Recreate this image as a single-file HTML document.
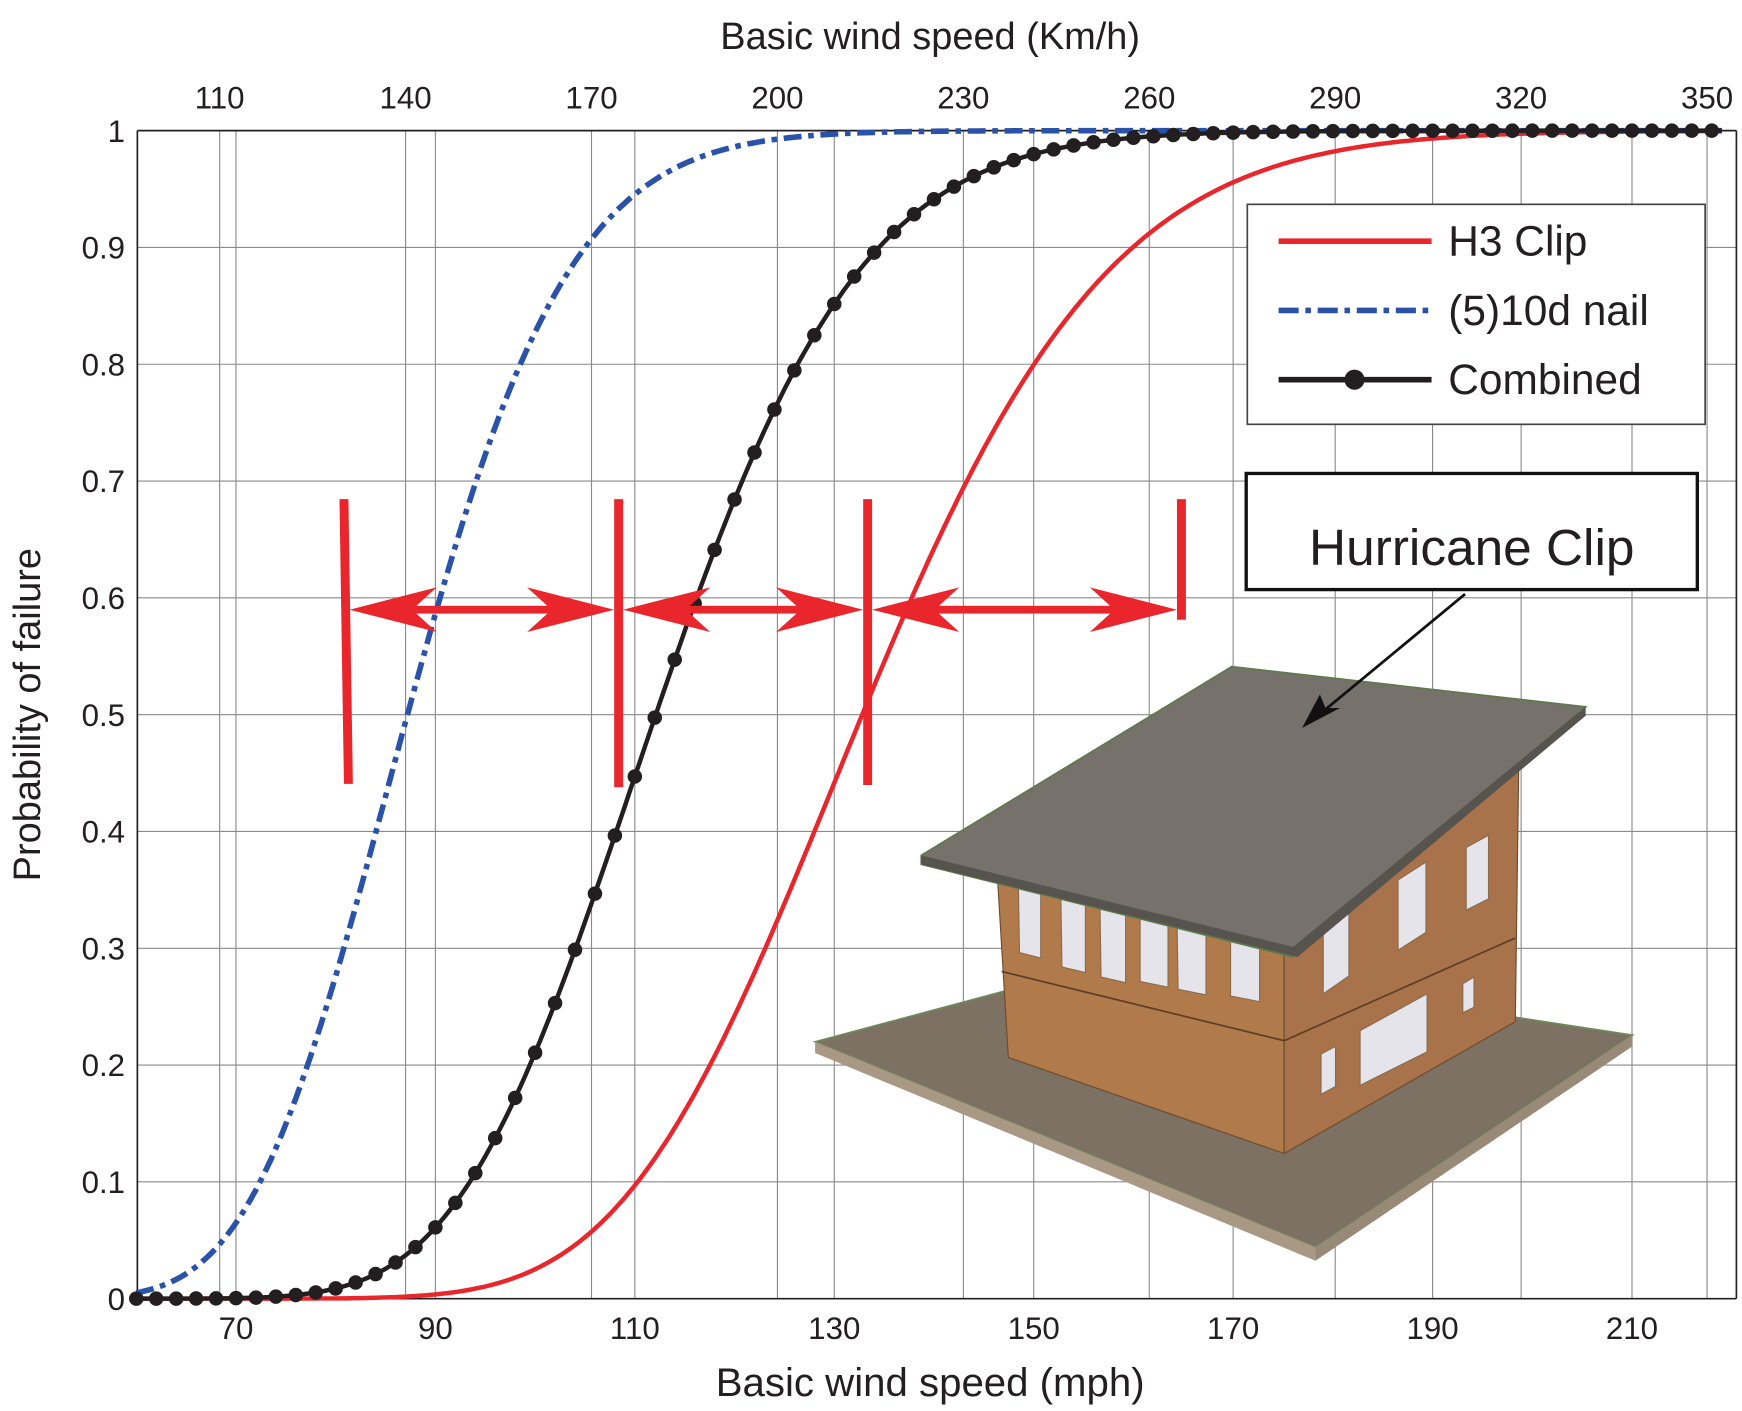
<!DOCTYPE html>
<html><head><meta charset="utf-8"><style>
html,body{margin:0;padding:0;background:#fff;}
svg{display:block;}
text{font-family:"Liberation Sans",Arial,sans-serif;fill:#231f20;}
</style></head><body>
<svg id="s" width="1742" height="1411" viewBox="0 0 1560 1263.6" xmlns="http://www.w3.org/2000/svg">
<rect width="1560" height="1264" fill="#fff"/>
<g id="grid" stroke="#8a8a8a" stroke-width="1"></g>
<g stroke="#231f20" stroke-width="1.5" fill="none">
<line x1="123" y1="117" x2="123" y2="1163"/>
<line x1="123" y1="1163" x2="1555" y2="1163"/>
<line x1="123" y1="117" x2="1555" y2="117"/>
<line x1="1555" y1="117" x2="1555" y2="1163"/>
</g>
<!-- labels -->
<text x="833" y="44" font-size="34" text-anchor="middle">Basic wind speed (Km/h)</text>
<text x="833" y="1250" font-size="36" text-anchor="middle">Basic wind speed (mph)</text>
<text transform="translate(36,640) rotate(-90)" font-size="34" text-anchor="middle">Probability of failure</text>
<g id="labels" font-size="28"></g>

<!-- house -->
<g>
<polygon points="730,933 1010,858 1462,927 1178,1117" fill="#7d7163" stroke="#6f8a5a" stroke-width="1.5"/>
<polygon points="730,933 730,943 1178,1129 1178,1117" fill="#a89884"/>
<polygon points="1178,1117 1178,1129 1462,937 1462,927" fill="#998a77"/>
<polygon points="893,782 1150,852 1150,1033 903,947" fill="#b07a4a" stroke="#6b4a2d" stroke-width="1"/>
<polygon points="1150,852 1360,690 1357,915 1150,1033" fill="#a8724a" stroke="#6b4a2d" stroke-width="1"/>
<line x1="897" y1="870" x2="1150" y2="932" stroke="#5a3e25" stroke-width="1.5"/>
<line x1="1150" y1="932" x2="1357" y2="840" stroke="#5a3e25" stroke-width="1.5"/>
<g fill="#e4e4ea" stroke="#8a6a4a" stroke-width="1">
<polygon points="912,795 932,798 932,858 913,853"/>
<polygon points="950,802 972,806 972,871 951,866"/>
<polygon points="985,808 1008,812 1008,880 986,875"/>
<polygon points="1021,812 1046,815 1046,884 1021,879"/>
<polygon points="1054,818 1080,822 1080,891 1055,886"/>
<polygon points="1102,841 1128,845 1128,897 1102,892"/>
<polygon points="1185,831 1208,812 1208,874 1185,890"/>
<polygon points="1252,788 1277,772 1277,835 1252,851"/>
<polygon points="1313,759 1333,748 1333,805 1313,815"/>
<polygon points="1183,944 1196,937 1196,973 1183,980"/>
<polygon points="1218,923 1278,890 1278,942 1218,972"/>
<polygon points="1310,881 1320,875 1320,902 1310,907"/>
</g>
<polygon points="825,766 1103,597 1420,633 1162,848 1158,857 825,774" fill="#76716b" stroke="#5c7a4a" stroke-width="1.5"/>
<polygon points="825,766 1158,848 1420,633 1420,641 1162,857 825,774" fill="#57534f"/>
</g>

<g id="curves"></g>

<!-- red bars & arrows -->
<g fill="#e8262b" stroke="none">
<polygon points="304,447 312,447 316,702 308,702"/>
<rect x="550" y="447" width="8" height="258"/>
<rect x="773" y="447" width="8" height="256"/>
<rect x="1054" y="447" width="8" height="108"/>
</g>
<g id="arrows" fill="#e8262b"></g>

<!-- legend -->
<rect x="1117" y="183" width="410" height="197" fill="#fff" stroke="#444" stroke-width="1.5"/>
<line x1="1145" y1="216" x2="1282" y2="216" stroke="#e8262b" stroke-width="5"/>
<line x1="1145" y1="278" x2="1282" y2="278" stroke="#2a52a8" stroke-width="5" stroke-dasharray="18 6 5 6"/>
<line x1="1145" y1="340" x2="1282" y2="340" stroke="#231f20" stroke-width="5"/>
<circle cx="1213" cy="340" r="9" fill="#231f20"/>
<text x="1297" y="229" font-size="38">H3 Clip</text>
<text x="1297" y="291" font-size="38">(5)10d nail</text>
<text x="1297" y="353" font-size="38">Combined</text>

<!-- hurricane clip box -->
<rect x="1116" y="424" width="404" height="104" fill="#fff" stroke="#111" stroke-width="3"/>
<text x="1318" y="506" font-size="46" text-anchor="middle">Hurricane Clip</text>
<line x1="1312" y1="532" x2="1185" y2="637" stroke="#111" stroke-width="2.5"/>
<polygon points="1166,652 1182,622 1187,634 1200,634" fill="#111"/>
</svg>
<script>
(function(){
var NS="http://www.w3.org/2000/svg";
function X(m){return 122+(m-60)*8.93;}
function Y(p){return 1163-p*1046;}
function el(t,a,par){var e=document.createElementNS(NS,t);for(var k in a)e.setAttribute(k,a[k]);par.appendChild(e);return e;}
var grid=document.getElementById('grid'),lab=document.getElementById('labels');
for(var i=1;i<=9;i++){el('line',{x1:123,y1:Y(i/10),x2:1555,y2:Y(i/10)},grid);}
var mph=[70,90,110,130,150,170,190,210];
mph.forEach(function(m){el('line',{x1:X(m),y1:117,x2:X(m),y2:1163},grid);
 var t=el('text',{x:X(m),y:1199,'text-anchor':'middle'},lab);t.textContent=m;});
var km=[110,140,170,200,230,260,290,320,350];
km.forEach(function(k){var x=X(k/1.609);el('line',{x1:x,y1:117,x2:x,y2:1163},grid);
 var t=el('text',{x:x,y:97,'text-anchor':'middle'},lab);t.textContent=k;});
var yl=['0','0.1','0.2','0.3','0.4','0.5','0.6','0.7','0.8','0.9','1'];
yl.forEach(function(s,i){var t=el('text',{x:112,y:Y(i/10)+10,'text-anchor':'end'},lab);t.textContent=s;});
function erf(x){var s=x<0?-1:1;x=Math.abs(x);var t=1/(1+0.3275911*x);
 var y=1-(((((1.061405429*t-1.453152027)*t)+1.421413741)*t-0.284496736)*t+0.254829592)*t*Math.exp(-x*x);return s*y;}
function cdf(m,med,b){var z=Math.log(m/med)/b;return 0.5*(1+erf(z/Math.SQRT2));}
var cv=document.getElementById('curves');
function path(med,b,a){var d='';for(var m=60;m<=219;m+=0.5){d+=(d?'L':'M')+X(m).toFixed(1)+','+Y(cdf(m,med,b)).toFixed(1);}a.d=d;a.fill='none';return el('path',a,cv);}
path(132.8,0.145,{stroke:'#e8262b','stroke-width':4});
path(87.2,0.145,{stroke:'#2a52a8','stroke-width':5,'stroke-dasharray':'16 6 5 6'});
path(112.1,0.142,{stroke:'#231f20','stroke-width':4});
for(var m=60;m<=219;m+=2){el('circle',{cx:X(m),cy:Y(cdf(m,112.1,0.142)),r:6.5,fill:'#231f20'},cv);}
var ar=document.getElementById('arrows'),y=546;
function head(x,dir){var L=78,H=20,N=56;
 el('polygon',{points:[x+','+y,(x+dir*L)+','+(y-H),(x+dir*N)+','+y,(x+dir*L)+','+(y+H)].join(' ')},ar);}
[[313,550],[558,773],[781,1054]].forEach(function(s){
 el('rect',{x:s[0]+20,y:y-3.5,width:s[1]-s[0]-40,height:7},ar);head(s[0],1);head(s[1],-1);});
})();
</script>
</body></html>
